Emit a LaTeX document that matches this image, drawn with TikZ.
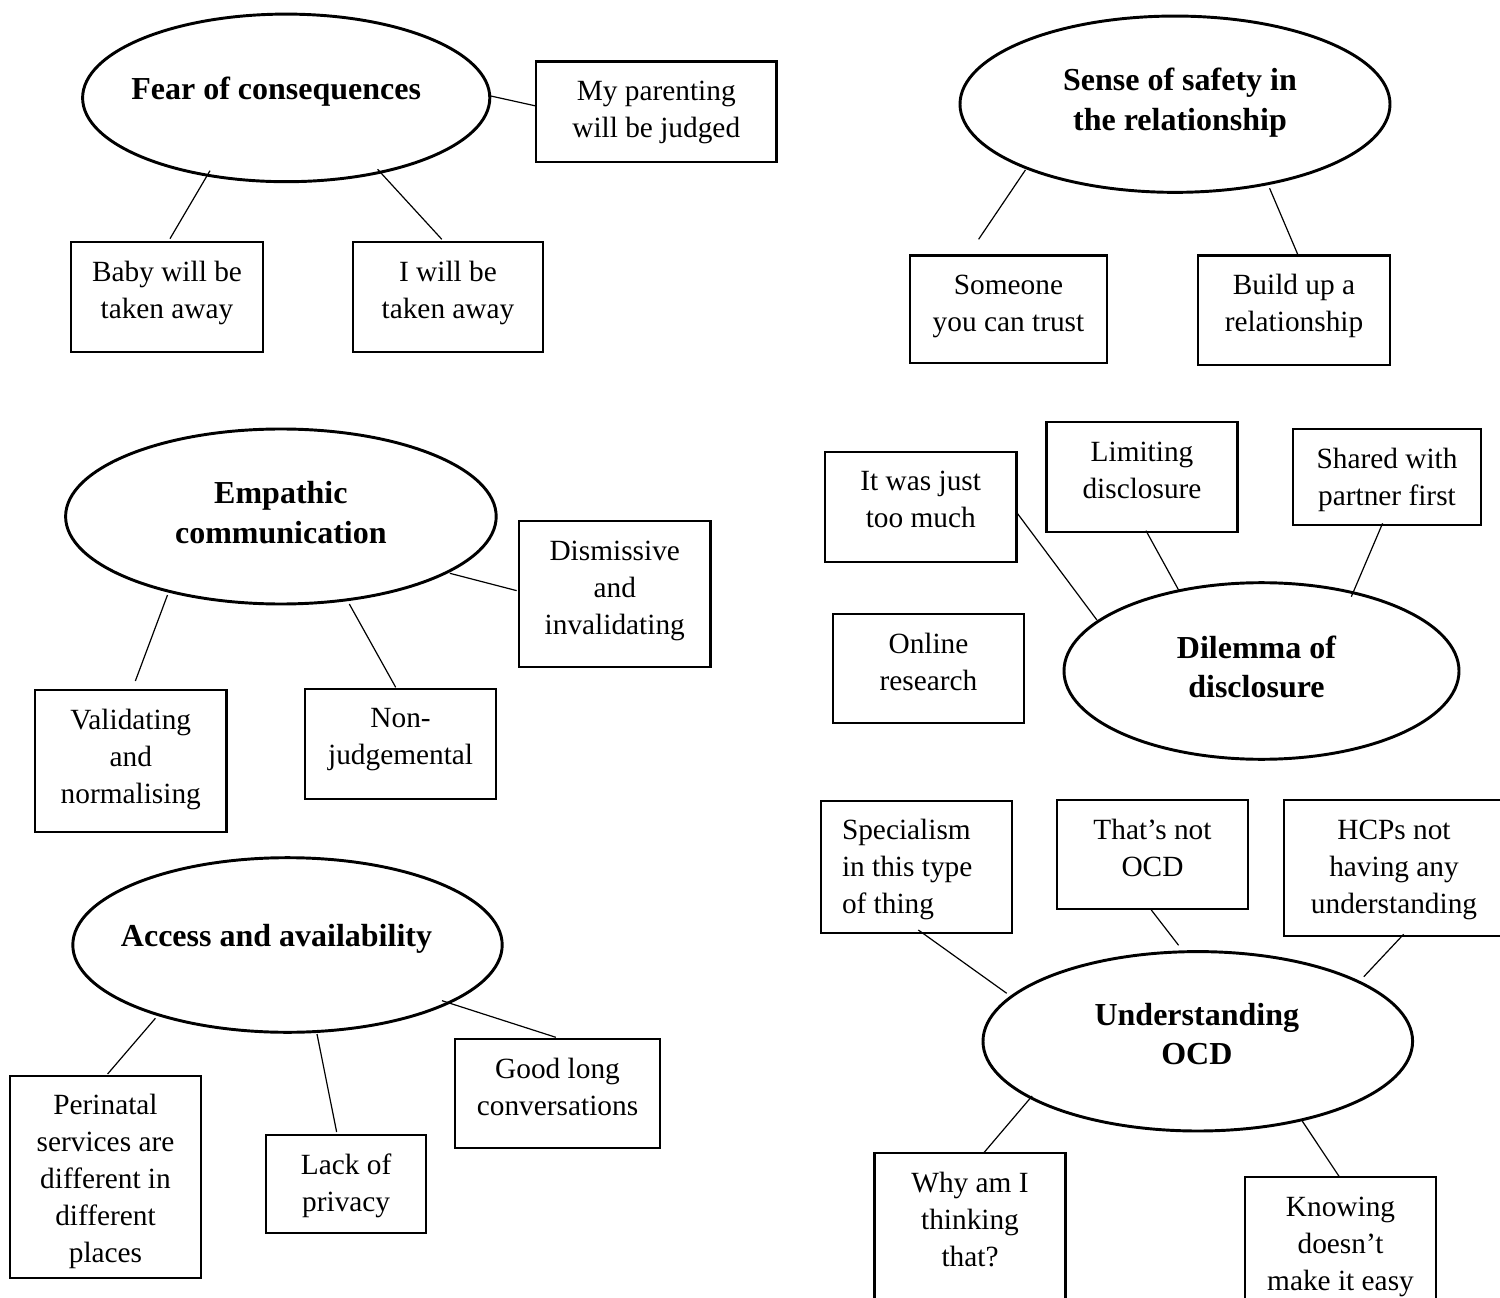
\documentclass[tikz,border=0pt]{standalone}
\usepackage{fontspec}
\setmainfont{Liberation Serif}
\usetikzlibrary{shapes.geometric}

% one drawing unit
\newlength\pxu \setlength\pxu{0.375pt}
% padding above the first line of a note box
\newlength\tpad \setlength\tpad{4.9pt}

\tikzset{
  notebox/.style={draw, line width=0.8pt, anchor=north west, outer sep=0pt,
    inner xsep=0pt, inner ysep=\tpad, font=\fontsize{11}{13.9}\selectfont},
  theme/.style={draw, ellipse, line width=1.1pt, inner sep=0pt, outer sep=0pt,
    font=\bfseries\fontsize{12}{14.8}\selectfont},
  link/.style={line width=0.45pt}
}

% note box: name, left, top, right, bottom, text (top-aligned)
\newcommand\notenode[6]{%
  \node[notebox] (#1) at (#2,#3)
    {\parbox[t][\dimexpr #5\pxu-#3\pxu-2\tpad\relax][t]{\dimexpr #4\pxu-#2\pxu\relax}{\centering\strut #6}};}

% theme title: horizontal offset (twice the shift), raise of first baseline, lines
\newcommand\themetext[3]{\smash{\raisebox{#2\pxu}{\makebox[0pt]{\hspace*{#1\pxu}\begin{tabular}[t]{@{}c@{}}#3\end{tabular}}}}}

\begin{document}
\begin{tikzpicture}[x=0.375pt, y=-0.375pt]
\useasboundingbox (0,0) rectangle (1500,1298);
\clip (0,0) rectangle (1500,1298);

% ---------- themes ----------
\node[theme, minimum width=407.2*\pxu, minimum height=167.6*\pxu] (fear) at (286.2,97.9)
  {\themetext{-20}{-1.4}{Fear of consequences}};
\node[theme, minimum width=430*\pxu, minimum height=176.3*\pxu] (safety) at (1175,104.2)
  {\themetext{10}{13.5}{Sense of safety in\\the relationship}};
\node[theme, minimum width=430.6*\pxu, minimum height=175*\pxu] (empathic) at (280.9,516.5)
  {\themetext{0}{12.5}{Empathic\\communication}};
\node[theme, minimum width=429.4*\pxu, minimum height=174.6*\pxu] (access) at (287.5,945)
  {\themetext{-22}{-1.7}{Access and availability}};
\node[theme, minimum width=395*\pxu, minimum height=176.6*\pxu] (dilemma) at (1261.5,671)
  {\themetext{-10}{12.7}{Dilemma of\\disclosure}};
\node[theme, minimum width=429.6*\pxu, minimum height=179.4*\pxu] (ocd) at (1197.8,1041.3)
  {\themetext{-2}{16.3}{Understanding\\OCD}};

% ---------- notes ----------
\notenode{parent}{536}{61.5}{776.5}{162.3}{My parenting\\will be judged}
\notenode{baby}{71}{242.3}{263}{351.7}{Baby will be\\taken away}
\notenode{iwill}{352.6}{242.3}{543.4}{351.7}{I will be\\taken away}

\notenode{someone}{910}{255.5}{1107}{363}{Someone\\you can trust}
\notenode{build}{1198}{255.5}{1390}{365}{Build up a\\relationship}

\notenode{dismiss}{519}{521}{710.5}{666.7}{Dismissive\\and\\invalidating}
\notenode{valid}{35}{690}{226.5}{832}{Validating\\and\\normalising}
\notenode{nonj}{305}{688.7}{496.2}{799}{Non-\\judgemental}

\notenode{perin}{10}{1075.7}{201}{1278.3}{Perinatal\\services are\\different in\\different\\places}
\notenode{lack}{266}{1135}{426.3}{1232.7}{Lack of\\privacy}
\notenode{good}{455}{1039.3}{660}{1148.3}{Good long\\conversations}

\notenode{toomuch}{825}{451.7}{1016.5}{561.7}{It was just\\too much}
\notenode{limiting}{1046.5}{422}{1237.5}{531.7}{Limiting\\disclosure}
\notenode{shared}{1293}{429}{1481}{525.3}{Shared with\\partner first}
\notenode{online}{833}{614.3}{1024}{723.3}{Online\\research}

\notenode{special}{821}{800.7}{1012}{932.7}{\raggedright\leftskip=21\pxu\relax Specialism\\in this type\\of thing}
\notenode{notocd}{1057}{800}{1248}{909.3}{That’s not\\OCD}
\notenode{hcps}{1284}{800}{1504}{936}{HCPs not\\having any\\understanding}
\notenode{why}{874.5}{1153.3}{1065.5}{1310}{Why am I\\thinking\\that?}
\notenode{knowing}{1245}{1177}{1436}{1310}{Knowing\\doesn’t\\make it easy}

% ---------- connectors ----------
\draw[link] ([xshift=204.6*\pxu,yshift=1.9*\pxu]fear.center) -- ([yshift=5.9*\pxu]parent.west);
\draw[link] ([xshift=-76.2*\pxu,yshift=-72.8*\pxu]fear.center) -- ([xshift=3*\pxu,yshift=3.6*\pxu]baby.north);
\draw[link] ([xshift=91.4*\pxu,yshift=-71.4*\pxu]fear.center) -- ([xshift=-6.2*\pxu,yshift=3*\pxu]iwill.north);

\draw[link] ([xshift=-149.6*\pxu,yshift=-65.8*\pxu]safety.center) -- ([xshift=-29.9*\pxu,yshift=16.2*\pxu]someone.north);
\draw[link] ([xshift=94.6*\pxu,yshift=-84.1*\pxu]safety.center) -- ([xshift=4.2*\pxu]build.north);

\draw[link] ([xshift=168.9*\pxu,yshift=-56.8*\pxu]empathic.center) -- ([xshift=-2.3*\pxu,yshift=3.2*\pxu]dismiss.west);
\draw[link] ([xshift=-113.4*\pxu,yshift=-78.5*\pxu]empathic.center) -- ([xshift=4.6*\pxu,yshift=9*\pxu]valid.north);
\draw[link] ([xshift=68.4*\pxu,yshift=-87.5*\pxu]empathic.center) -- ([xshift=-4.9*\pxu,yshift=1.4*\pxu]nonj.north);

\draw[link] ([xshift=-132.1*\pxu,yshift=-73.3*\pxu]access.center) -- ([xshift=2.1*\pxu,yshift=1.7*\pxu]perin.north);
\draw[link] ([xshift=29.5*\pxu,yshift=-89*\pxu]access.center) -- ([xshift=-9.5*\pxu,yshift=3*\pxu]lack.north);
\draw[link] ([xshift=154.5*\pxu,yshift=-55.7*\pxu]access.center) -- ([xshift=-1.7*\pxu,yshift=2*\pxu]good.north);

\draw[link] ([xshift=-0.9*\pxu,yshift=-4.3*\pxu]toomuch.east) -- ([xshift=-164.6*\pxu,yshift=51*\pxu]dilemma.center);
\draw[link] ([xshift=4*\pxu,yshift=1*\pxu]limiting.south) -- ([xshift=-82.9*\pxu,yshift=81*\pxu]dilemma.center);
\draw[link] ([xshift=-4.4*\pxu,yshift=2*\pxu]shared.south) -- ([xshift=89.8*\pxu,yshift=74.3*\pxu]dilemma.center);

\draw[link] ([xshift=1.8*\pxu,yshift=2.7*\pxu]special.south) -- ([xshift=-191.1*\pxu,yshift=48*\pxu]ocd.center);
\draw[link] ([xshift=-1.2*\pxu,yshift=-0.7*\pxu]notocd.south) -- ([xshift=-19.2*\pxu,yshift=96*\pxu]ocd.center);
\draw[link] ([xshift=9.6*\pxu,yshift=1.7*\pxu]hcps.south) -- ([xshift=166*\pxu,yshift=64.6*\pxu]ocd.center);
\draw[link] ([xshift=-165.7*\pxu,yshift=-54.7*\pxu]ocd.center) -- ([xshift=13.9*\pxu,yshift=0.6*\pxu]why.north);
\draw[link] ([xshift=104.4*\pxu,yshift=-79.7*\pxu]ocd.center) -- ([xshift=-1.2*\pxu,yshift=0.3*\pxu]knowing.north);
\end{tikzpicture}
\end{document}
